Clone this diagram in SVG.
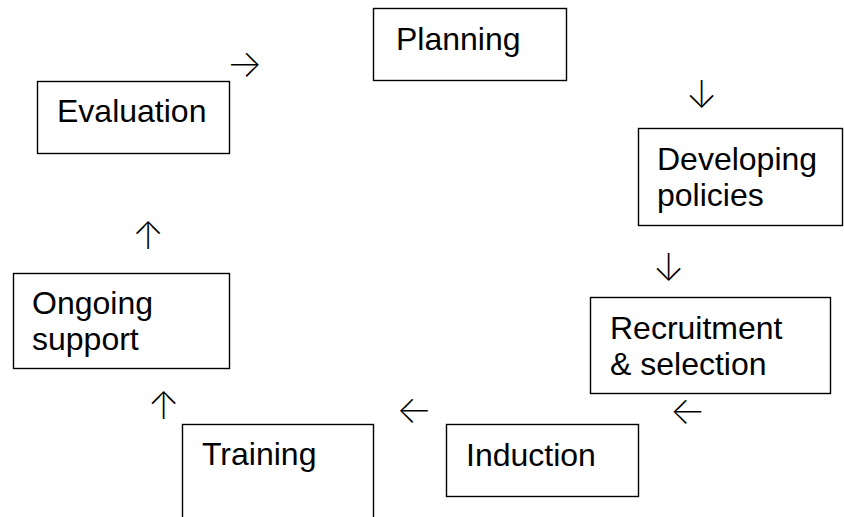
<svg xmlns="http://www.w3.org/2000/svg" width="844" height="517" viewBox="0 0 844 517">
<style>
.box{fill:#fff;stroke:#000;stroke-width:1.4}
.t{font-family:"Liberation Sans",Arial,sans-serif;font-size:32px;fill:#000}
.a{font-family:Inter,"DejaVu Sans",sans-serif;font-weight:200;font-size:38px;fill:#000;text-anchor:middle}
</style>
<rect width="844" height="517" fill="#fff"/>
<g id="planning"><rect class="box" x="373.5" y="8.5" width="193" height="72"/><text class="t" x="396" y="49.5">Planning</text></g>
<g id="developing"><rect class="box" x="638.5" y="128.5" width="204" height="97"/><text class="t" x="657" y="169.5">Developing</text><text class="t" x="657" y="205.5">policies</text></g>
<g id="recruitment"><rect class="box" x="590.5" y="297.5" width="240" height="96"/><text class="t" x="610" y="338.5">Recruitment</text><text class="t" x="610" y="374.5">&amp; selection</text></g>
<g id="induction"><rect class="box" x="446.5" y="424.5" width="192" height="72"/><text class="t" x="466" y="466">Induction</text></g>
<g id="training"><rect class="box" x="182.5" y="424.5" width="191" height="100"/><text class="t" x="202" y="465">Training</text></g>
<g id="ongoing"><rect class="box" x="13.5" y="273.5" width="216" height="95"/><text class="t" x="32" y="313.5">Ongoing</text><text class="t" x="32" y="350">support</text></g>
<g id="evaluation"><rect class="box" x="37.5" y="81.5" width="192" height="72"/><text class="t" x="57" y="122">Evaluation</text></g>
<g id="connectors">
<text class="a" x="244.5" y="76.5">→</text>
<text class="a" x="701.5" y="108">↓</text>
<text class="a" x="668.5" y="281">↓</text>
<text class="a" x="688" y="423.5">←</text>
<text class="a" x="414.5" y="422.5">←</text>
<text class="a" x="163.5" y="419">↑</text>
<text class="a" x="148" y="249">↑</text>
</g>
</svg>
